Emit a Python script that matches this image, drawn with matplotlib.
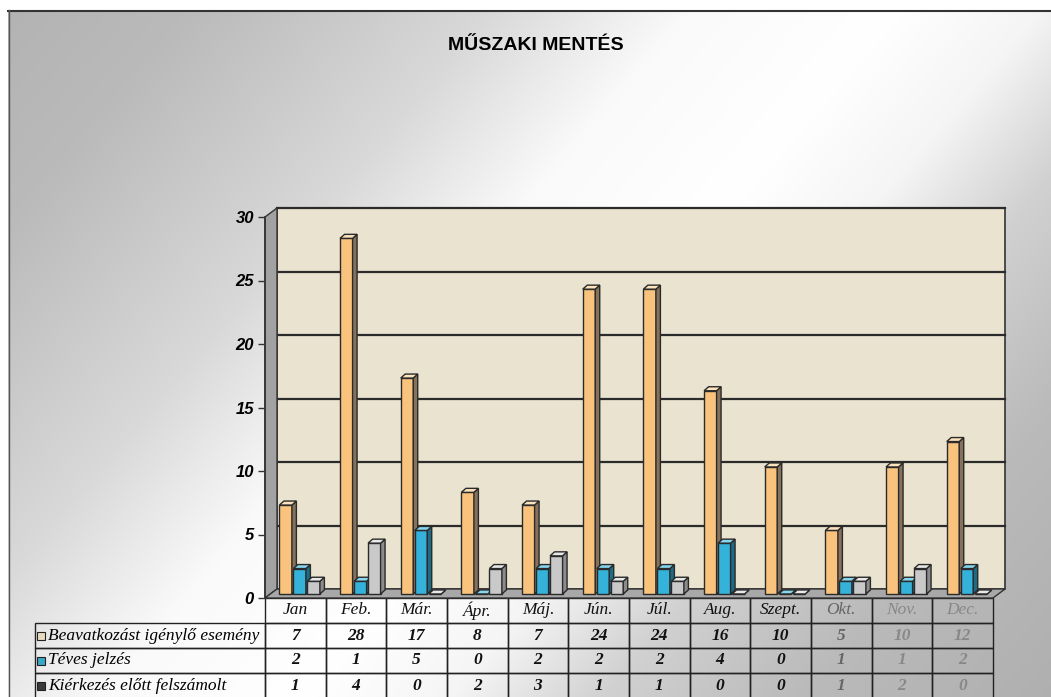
"""
Műszaki mentés - havi bontás, 3D hatású oszlopdiagram adattáblával.
"""
import numpy as np
import matplotlib
matplotlib.use('Agg')
import matplotlib.pyplot as plt
from matplotlib.patches import Rectangle, Polygon
from matplotlib.table import Table

# Adatok
honapok = ['Jan', 'Feb.', 'Már.', 'Ápr.', 'Máj.', 'Jún.', 'Júl.', 'Aug.',
           'Szept.', 'Okt.', 'Nov.', 'Dec.']
sorozat_nevek = ['Beavatkozást igénylő esemény', 'Téves jelzés',
                 'Kiérkezés előtt felszámolt']
beavatkozas = [7, 28, 17, 8, 7, 24, 24, 16, 10, 5, 10, 12]
teves = [2, 1, 5, 0, 2, 2, 2, 4, 0, 1, 1, 2]
felszamolt = [1, 4, 0, 2, 3, 1, 1, 0, 0, 1, 2, 0]
y_ticks = [0, 5, 10, 15, 20, 25, 30]
cim = 'MŰSZAKI MENTÉS'

# Stílus
front = ['#f9c37d', '#34b2da', '#c9c9c9']
side = ['#86725c', '#1d6b84', '#8c8c8c']
top = ['#fde3bd', '#86d6ef', '#e8e8e8']
kulcs = ['#e8dcc0', '#3aa9c4', '#3a3a3a']
szoveg_szin = ['#111111'] * 9 + ['#666666', '#888888', '#888888']

W, H = 1051, 697
fig = plt.figure(figsize=(W / 100, H / 100), dpi=100)

# Háttér színátmenet (átlós világos sáv)
bg = fig.add_axes([0, 0, 1, 1])
bg.set_xlim(0, W)
bg.set_ylim(H, 0)
bg.axis('off')
xx, yy = np.meshgrid(np.arange(W), np.arange(H))
v = np.interp(xx + 0.86 * yy, [0, 200, 500, 700, 900, 1050, 1200, 1400, 1700],
              [0.70, 0.73, 0.85, 0.98, 1.0, 0.96, 0.82, 0.73, 0.68])
img = np.dstack([v, v, v])
img[:10, :] = 1
img[:, :8] = 1
bg.imshow(img, extent=[0, W, H, 0], aspect='auto', interpolation='bilinear')
bg.plot([8, W], [10.5, 10.5], color='#333333', lw=1.5)
bg.plot([8.5, 8.5], [10, H], color='#555555', lw=1)

# Fő tengely (pixel határok)
L, R, B, T = 265, 993, 598, 217
ax = fig.add_axes([L / W, (H - B) / H, (R - L) / W, (B - T) / H])
ax.set_xlim(0, 12)
ax.set_ylim(0, 30)
ax.patch.set_visible(False)
for sp in ['top', 'right', 'bottom']:
    ax.spines[sp].set_visible(False)
ax.spines['left'].set_color('#333333')
ax.spines['left'].set_linewidth(1.2)
ax.set_xticks([])
ax.set_yticks(y_ticks)
ax.tick_params(axis='y', length=5, width=1, color='#333333', pad=3)
for lab in ax.get_yticklabels():
    lab.set_fontweight('bold')
    lab.set_fontstyle('italic')
    lab.set_fontsize(12)
    lab.set_family('Liberation Sans')

px_x = (R - L) / 12
px_y = (B - T) / 30
wdx, wdy = 12 / px_x, 9 / px_y

# Hátfal, rácsvonalak, oldalfal, padló
ax.add_patch(Polygon([(wdx, wdy), (12 + wdx, wdy), (12 + wdx, 30 + wdy), (wdx, 30 + wdy)],
                     closed=True, fc='#e9e3cf', ec='#333333', lw=1.2, zorder=1, clip_on=False))
for t in y_ticks[1:]:
    ax.plot([wdx, 12 + wdx], [t + wdy, t + wdy], color='#2b2b2b', lw=1.6,
            zorder=2, clip_on=False)
ax.add_patch(Polygon([(0, 0), (0, 30), (wdx, 30 + wdy), (wdx, wdy)],
                     closed=True, fc='#a2a2a2', ec='#333333', lw=1, zorder=2, clip_on=False))
ax.add_patch(Polygon([(0, 0), (12, 0), (12 + wdx, wdy), (wdx, wdy)],
                     closed=True, fc='#a8a8a8', ec='#333333', lw=1, zorder=2, clip_on=False))

# Oszlopok
series = [beavatkozas, teves, felszamolt]
bdx, bdy = 4.5 / px_x, 4 / px_y
ox, oy = wdx * 0.45, wdy * 0.45
bw = 12.5 / px_x
pitch = 14 / px_x
start = 9 / px_x
x_idx = np.arange(12)
for k, vals in enumerate(series):
    xs = x_idx + start + k * pitch + ox
    bars = ax.bar(xs, vals, width=bw, bottom=oy, align='edge', color=front[k],
                  edgecolor='#2a2a2a', linewidth=1.0, clip_on=False)
    for i, (x0, h) in enumerate(zip(xs, vals)):
        z = 3 + (i * 3 + k) * 0.01
        bars[i].set_zorder(z)
        ax.add_patch(Polygon([(x0 + bw, oy), (x0 + bw + bdx, oy + bdy),
                              (x0 + bw + bdx, oy + h + bdy), (x0 + bw, oy + h)],
                             closed=True, fc=side[k], ec='#2a2a2a', lw=1.0,
                             zorder=z, clip_on=False))
        ax.add_patch(Polygon([(x0, oy + h), (x0 + bdx, oy + h + bdy),
                              (x0 + bw + bdx, oy + h + bdy), (x0 + bw, oy + h)],
                             closed=True, fc=top[k], ec='#2a2a2a', lw=1.0,
                             zorder=z, clip_on=False))

# Adattábla
lab_w = 230
row_h = 25
tab = Table(ax, bbox=[-lab_w / (R - L), -4 * row_h / (B - T),
                      (lab_w + R - L) / (R - L), 4 * row_h / (B - T)])
tab.auto_set_font_size(False)
for c, nev in enumerate(honapok):
    cell = tab.add_cell(0, c + 1, width=px_x, height=row_h, text=nev, loc='center',
                        fill=False, edgecolor='#222222')
    cell.get_text().set_color(szoveg_szin[c])
for r, (nev, vals) in enumerate(zip(sorozat_nevek, series)):
    cell = tab.add_cell(r + 1, 0, width=lab_w, height=row_h, text=nev, loc='left',
                        fill=False, edgecolor='#222222')
    cell.PAD = 0.057
    for c, val in enumerate(vals):
        cell = tab.add_cell(r + 1, c + 1, width=px_x, height=row_h, text=str(val),
                            loc='center', fill=False, edgecolor='#222222')
        cell.get_text().set_fontweight('bold')
        cell.get_text().set_color(szoveg_szin[c])
for (r, c), cell in tab.get_celld().items():
    t = cell.get_text()
    t.set_family('Liberation Serif')
    t.set_fontstyle('italic')
    t.set_fontsize(12.5)
ax.add_table(tab)

# Jelmagyarázat négyzetek a táblázat soraiban
for r in range(3):
    yc = -(r + 1.5) * row_h / (B - T)
    ax.add_patch(Rectangle(((37 - L) / (R - L), yc - 4 / (B - T)), 8 / (R - L), 8 / (B - T),
                           transform=ax.transAxes, fc=kulcs[r], ec='#222222', lw=0.8,
                           clip_on=False, zorder=5))

# Cím
fig.text(536 / W, 1 - 46 / H, cim, ha='center', va='center', fontsize=14,
         fontweight='bold', family='Liberation Sans')

fig.savefig('out.png', dpi=100)
